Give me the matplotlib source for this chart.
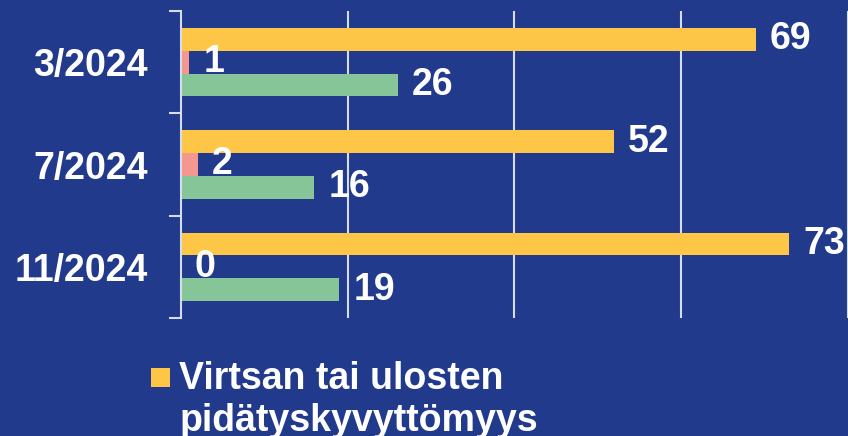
import numpy as np
import matplotlib
matplotlib.use('Agg')
import matplotlib.pyplot as plt
from matplotlib.patches import Rectangle
from matplotlib.legend_handler import HandlerPatch

categories = ['3/2024', '7/2024', '11/2024']
incontinence = [69, 52, 73]   # Virtsan tai ulosten pidätyskyvyttömyys
series_pink = [1, 2, 0]
series_green = [26, 16, 19]

bg = '#213A8C'
yellow = '#FDC647'
pink = '#F4978E'
green = '#86C597'
light = '#D5DCEA'
fs = 27

plt.rcParams['font.family'] = ['Liberation Sans', 'DejaVu Sans']
plt.rcParams['font.weight'] = 'bold'

fig = plt.figure(figsize=(8.48, 4.36), dpi=100, facecolor=bg)
ax = fig.add_axes([181 / 848, 118 / 436, 666.5 / 848, 307 / 436], facecolor=bg)

y = np.arange(len(categories))
h = 1 / 4.5

b1 = ax.barh(y - h, incontinence, height=h, color=yellow)
b2 = ax.barh(y, series_pink, height=h, color=pink)
b3 = ax.barh(y + h, series_green, height=h, color=green)

for b in (b1, b2, b3):
    ax.bar_label(b, padding=10, color='white', fontsize=fs, fontweight='bold')

ax.set_xlim(0, 80)
ax.set_ylim(2.5, -0.5)
ax.set_xticks([20, 40, 60, 80])
ax.xaxis.grid(True, color=light, linewidth=1.5)
ax.set_axisbelow(True)
ax.tick_params(axis='x', length=0, labelbottom=False)

ax.set_yticks(y)
ax.set_yticklabels(categories, color='white', fontsize=fs, fontweight='bold')
ax.set_yticks([-0.5, 0.5, 1.5, 2.5], minor=True)
ax.tick_params(axis='y', which='major', length=0, pad=24)
ax.tick_params(axis='y', which='minor', length=9, width=1.5, color=light)

for s in ['top', 'right', 'bottom']:
    ax.spines[s].set_visible(False)
ax.spines['left'].set_color(light)
ax.spines['left'].set_linewidth(1.5)


# legend square sits next to the first line of the label
def square(legend, orig_handle, xdescent, ydescent, width, height, fontsize):
    return Rectangle((-xdescent, -ydescent), width, 0.5 * fontsize)


handle = b1.patches[0]
leg = fig.legend([handle], ['Virtsan tai ulosten\npidätyskyvyttömyys'],
                 loc='upper left', bbox_to_anchor=(151 / 848, 1 - 361 / 436),
                 frameon=False, fontsize=fs, handlelength=0.5, handleheight=0.67,
                 handletextpad=0.25, borderpad=0, borderaxespad=0, labelspacing=0,
                 handler_map={handle: HandlerPatch(patch_func=square)})
for row in leg._legend_handle_box.get_children()[0].get_children():
    row.align = 'top'
for t in leg.get_texts():
    t.set_color('white')
    t.set_fontweight('bold')
    t.set_linespacing(1.22)

fig.savefig('out.png', dpi=100, facecolor=bg)
